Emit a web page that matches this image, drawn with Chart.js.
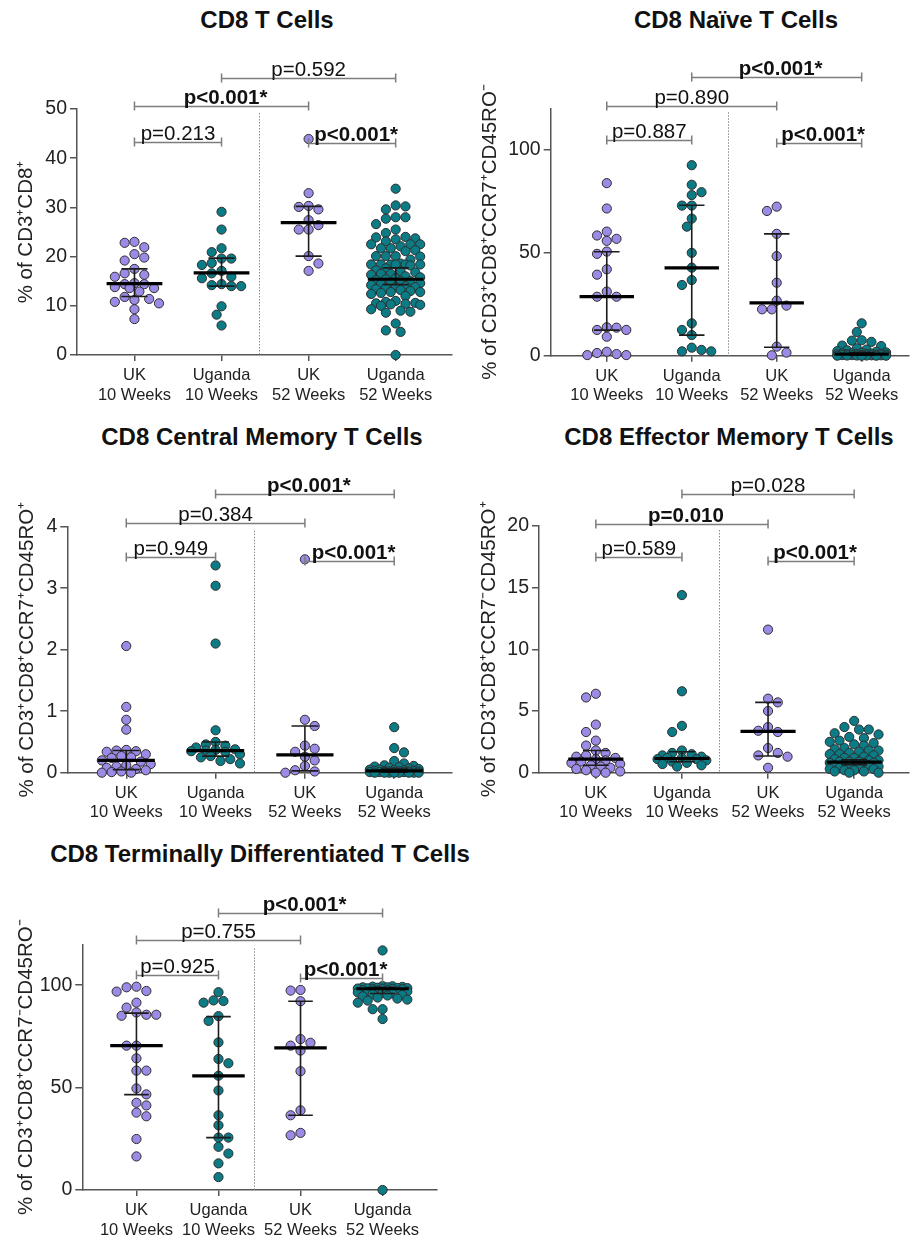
<!DOCTYPE html>
<html>
<head>
<meta charset="utf-8">
<script src="https://cdn.jsdelivr.net/npm/chart.js@4.4.1/dist/chart.umd.min.js"></script>
<style>
  body { margin: 0; background: #fff; }
  #page { position: relative; width: 914px; height: 1238px; overflow: hidden; background: #fff;
          font-family: 'Liberation Sans', Arial, sans-serif; }
  .title { position: absolute; transform: translateX(-50%); white-space: nowrap;
           font-weight: bold; font-size: 24px; line-height: 24px; color: #111; }
  canvas { position: absolute; }
</style>
</head>
<body>
<div id="page">
  <div class="title" style="left:267px;top:8px">CD8 T Cells</div>
  <div class="title" style="left:736px;top:8px">CD8 Naïve T Cells</div>
  <div class="title" style="left:262px;top:425px">CD8 Central Memory T Cells</div>
  <div class="title" style="left:729px;top:425px">CD8 Effector Memory T Cells</div>
  <div class="title" style="left:260px;top:842px">CD8 Terminally Differentiated T Cells</div>

  <canvas id="totalChart" width="457" height="370" style="left:0;top:40px"></canvas>
  <canvas id="naiveChart" width="457" height="370" style="left:457px;top:40px"></canvas>
  <canvas id="centralChart" width="457" height="375" style="left:0;top:455px"></canvas>
  <canvas id="effectorChart" width="457" height="375" style="left:457px;top:455px"></canvas>
  <canvas id="temraChart" width="457" height="366" style="left:0;top:872px"></canvas>
</div>
<script>
var FONT = "'Liberation Sans', Arial, sans-serif";
var PURPLE = '#9c8ae6';
var TEAL = '#0b7b86';

var groupLabels = [['UK', '10 Weeks'], ['Uganda', '10 Weeks'], ['UK', '52 Weeks'], ['Uganda', '52 Weeks']];
var groupColors = [PURPLE, TEAL, PURPLE, TEAL];
var comparisons = [[0, 1], [0, 2], [1, 3], [2, 3]];

// CD8 T cells (% of CD3+CD8+)
var totalUK10 = [23.0, 22.8, 21.9, 20.5, 19.8, 19.2, 17.5, 16.6, 16.3, 15.9, 14.6, 14.4, 14.4, 13.8, 13.6, 13.6, 12.9, 11.8, 11.4, 11.2, 10.8, 10.5, 9.3, 7.3];
var totalUG10 = [29.1, 25.5, 21.7, 20.9, 19.6, 19.6, 18.7, 18.3, 17.1, 16.6, 15.9, 15.6, 14.4, 14.2, 14.0, 14.0, 9.9, 8.2, 6.0];
var totalUK52 = [43.9, 32.9, 30.3, 30.1, 29.6, 27.4, 26.4, 25.5, 25.5, 20.1, 18.6, 17.1];
var totalUG52 = [33.8, 30.4, 30.2, 29.6, 28.0, 28.0, 27.7, 26.6, 25.5, 24.8,
    24.0, 23.9, 23.7, 23.5, 23.1, 22.5, 22.5, 22.5,
    22.1, 21.7, 21.7, 21.3, 21.1, 20.1, 20.1, 20.1, 20.0,
    19.4, 18.6, 18.4, 18.4, 18.4, 18.4, 18.4, 18.4, 18.2,
    17.6, 17.2, 17.0, 16.8, 16.5, 16.5, 16.3, 16.0,
    15.8, 15.6, 15.4, 15.2, 15.0, 15.0, 14.8, 14.6,
    14.4, 14.2, 14.0, 13.8, 13.8, 13.6, 13.4, 13.2,
    13.0, 12.8, 12.8, 12.6, 12.4, 12.0,
    11.0, 10.8, 10.6, 10.5, 10.4, 10.3, 10.2, 10.0,
    9.3, 9.0, 8.8, 8.6, 6.4, 5.0, 4.7, 0.0];
var totalMedian = [14.5, 16.7, 26.9, 15.4];
var totalLower = [11.9, 14.0, 20.1, 14.3];
var totalUpper = [17.5, 19.7, 30.2, 17.7];
var totalTicks = [0, 10, 20, 30, 40, 50];
var totalP = ['p=0.213', 'p<0.001*', 'p=0.592', 'p<0.001*'];
var totalPLevel = [43.2, 50.6, 56.4, 43.1];

// naive CCR7+ CD45RO-
var naiveUK10 = [83.7, 71.4, 60.2, 58.3, 56.7, 55.7, 50.5, 49.4, 41.9, 39.3, 31.1, 28.6, 28.6, 13.8, 13.6, 12.5, 12.5, 9.2, 1.9, 1.3, 0.8, 0.3, 0.3];
var naiveUG10 = [92.4, 82.9, 79.3, 77.9, 72.8, 72.8, 66.5, 62.6, 49.9, 42.7, 36.7, 34.3, 15.7, 12.5, 10.0, 3.9, 2.8, 2.1, 2.1];
var naiveUK52 = [72.3, 70.2, 59.1, 48.3, 35.4, 26.7, 24.3, 22.5, 22.5, 4.4, 1.5, 0.2];
var naiveUG52 = [15.7, 11.5, 7.5, 7.3, 6.7, 4.9, 4.7, 3.6, 3.0, 2.6, 2.2, 1.9, 1.6, 1.4, 1.2, 1.1, 1.0, 0.9, 0.8, 0.8,
    0.7, 0.6, 0.5, 0.5, 0.4, 0.3, 0.3, 0.2, 0.2, 0.1, 0.1, 0.1, 0.0, 0.0, 0.0, 0.0];
var naiveMedian = [28.7, 42.6, 25.6, 0.8];
var naiveLower = [12.4, 10.0, 4.1, 0.2];
var naiveUpper = [50.4, 73.0, 59.1, 1.5];
var naiveTicks = [0, 50, 100];
var naiveP = ['p=0.887', 'p=0.890', 'p<0.001*', 'p<0.001*'];
var naivePLevel = [104.6, 121.2, 135.1, 103.1];

// central memory CCR7+ CD45RO+
var centralUK10 = [2.06, 1.07, 0.86, 0.70, 0.37, 0.36, 0.35, 0.34, 0.30, 0.27, 0.25, 0.24, 0.20, 0.18, 0.14, 0.12, 0.10, 0.08, 0.06, 0.04, 0.02, 0.01, 0.0, 0.0];
var centralUG10 = [3.37, 3.04, 2.10, 0.69, 0.50, 0.46, 0.44, 0.41, 0.38, 0.37, 0.36, 0.35, 0.34, 0.30, 0.27, 0.25, 0.22, 0.19, 0.15];
var centralUK52 = [3.47, 0.86, 0.76, 0.44, 0.39, 0.34, 0.26, 0.20, 0.11, 0.04, 0.02, 0.0];
var centralUG52 = [0.74, 0.40, 0.33, 0.19, 0.15, 0.12, 0.11, 0.10, 0.09, 0.08, 0.07, 0.06, 0.05, 0.05, 0.04, 0.04, 0.03, 0.03,
    0.03, 0.02, 0.02, 0.02, 0.02, 0.01, 0.01, 0.01, 0.01, 0.01, 0.0, 0.0, 0.0, 0.0, 0.0, 0.0, 0.0, 0.0];
var centralMedian = [0.20, 0.36, 0.29, 0.03];
var centralLower = [0.05, 0.27, 0.03, 0.01];
var centralUpper = [0.36, 0.50, 0.76, 0.06];
var centralTicks = [0, 1, 2, 3, 4];
var centralP = ['p=0.949', 'p=0.384', 'p<0.001*', 'p<0.001*'];
var centralPLevel = [3.51, 4.06, 4.53, 3.45];

// effector memory CCR7- CD45RO+
var effectorUK10 = [6.4, 6.1, 3.9, 3.3, 2.6, 2.2, 1.8, 1.6, 1.4, 1.3, 1.2, 1.1, 1.0, 0.9, 0.8, 0.7, 0.6, 0.5, 0.4, 0.3, 0.2, 0.1, 0.0, 0.0];
var effectorUG10 = [14.4, 6.6, 3.8, 3.3, 1.8, 1.6, 1.5, 1.4, 1.3, 1.2, 1.2, 1.1, 1.1, 1.0, 0.9, 0.8, 0.7, 0.6, 0.5];
var effectorUK52 = [11.6, 6.0, 5.7, 5.0, 3.7, 3.4, 3.3, 2.0, 1.6, 1.4, 1.3, 0.4];
var effectorUG52 = [4.2, 3.7, 3.5, 3.5, 3.2, 3.1, 2.9, 2.8, 2.6, 2.5, 2.4, 2.3, 2.2, 2.0, 1.9, 1.8, 1.8, 1.7, 1.6, 1.5,
    1.5, 1.4, 1.3, 1.2, 1.2, 1.1, 1.0, 1.0, 0.9, 0.9, 0.9, 0.8, 0.8, 0.8, 0.7, 0.7, 0.6, 0.6, 0.5, 0.5,
    0.4, 0.4, 0.3, 0.3, 0.2, 0.2, 0.1, 0.1, 0.0, 0.0];
var effectorMedian = [1.1, 1.15, 3.35, 0.85];
var effectorLower = [0.6, 0.9, 1.35, 0.65];
var effectorUpper = [1.8, 1.7, 5.7, 1.05];
var effectorTicks = [0, 5, 10, 15, 20];
var effectorP = ['p=0.589', 'p=0.010', 'p=0.028', 'p<0.001*'];
var effectorPLevel = [17.5, 20.2, 22.6, 17.2];

// terminally differentiated CCR7- CD45RO-
var temraUK10 = [99.3, 99.0, 97.2, 96.9, 91.5, 89.1, 86.7, 85.6, 85.6, 85.1, 70.5, 70.5, 64.3, 58.3, 58.3, 49.6, 46.7, 42.6, 41.3, 37.8, 36.0, 24.9, 16.4];
var temraUG10 = [96.6, 92.6, 92.3, 91.5, 84.9, 82.6, 72.1, 64.0, 61.9, 55.8, 48.6, 36.5, 31.6, 25.6, 25.6, 21.1, 17.8, 13.0, 6.3];
var temraUK52 = [97.7, 97.4, 92.2, 73.7, 71.9, 70.5, 68.1, 58.0, 38.9, 36.5, 27.9, 26.7];
var temraUG52 = [117.0, 99.6, 99.5, 99.3, 99.2, 99.0, 99.0, 98.8, 98.7, 98.6, 98.5, 98.4, 98.3, 98.2, 98.0, 98.0, 97.8, 97.6, 97.5,
    97.3, 97.0, 96.8, 96.5, 96.2, 96.0, 95.6, 95.2, 95.0, 94.6, 94.0, 93.5, 93.0, 92.5, 91.5, 88.3, 88.3, 83.5, 0.0];
var temraMedian = [70.5, 55.7, 69.4, 98.3];
var temraLower = [46.6, 25.6, 36.5, 96.0];
var temraUpper = [86.4, 84.7, 92.2, 99.0];
var temraTicks = [0, 50, 100];
var temraP = ['p=0.925', 'p=0.755', 'p<0.001*', 'p<0.001*'];
var temraPLevel = [104.9, 121.9, 135.3, 103.7];

var X_MIN = -0.66;
var WEEK_DIVIDER = 1.43;
var DOT = 9;

// spread points of one column sideways so they don't sit on top of each other
function beeswarm(values, pxPerY, pxPerX, maxHalf) {
    var order = values.map(function (v, i) { return i; });
    order.sort(function (a, b) { return values[b] - values[a]; });
    var placed = [];
    var offsets = values.map(function () { return 0; });
    var step = DOT * 0.55;
    var maxK = Math.floor(maxHalf / step);
    order.forEach(function (i, n) {
        var y = values[i] * pxPerY;
        var sign = n % 2 ? -1 : 1;
        var best = 0, bestGap = -1, done = false;
        for (var k = 0; k <= maxK && !done; k++) {
            var cands = k === 0 ? [0] : [sign * k * step, -sign * k * step];
            for (var c = 0; c < cands.length; c++) {
                var gap = Infinity;
                placed.forEach(function (p) {
                    gap = Math.min(gap, Math.hypot(p.x - cands[c], p.y - y));
                });
                if (gap >= DOT) { best = cands[c]; done = true; break; }
                if (gap > bestGap) { bestGap = gap; best = cands[c]; }
            }
        }
        placed.push({ x: best, y: y });
        offsets[i] = best / pxPerX;
    });
    return offsets;
}

var dividerPlugin = {
    id: 'weekDivider',
    beforeDatasetsDraw: function (chart) {
        var ctx = chart.ctx, area = chart.chartArea;
        var x = Math.round(chart.scales.x.getPixelForValue(WEEK_DIVIDER)) + 0.5;
        ctx.save();
        ctx.strokeStyle = '#8a8a8a';
        ctx.lineWidth = 1;
        ctx.setLineDash([1.5, 1.5]);
        ctx.beginPath();
        ctx.moveTo(x, area.top + 4);
        ctx.lineTo(x, area.bottom);
        ctx.stroke();
        ctx.restore();
    }
};

var summaryPlugin = {
    id: 'medianBars',
    afterDatasetsDraw: function (chart, args, opts) {
        var ctx = chart.ctx, xs = chart.scales.x, ys = chart.scales.y;
        var unit = xs.getPixelForValue(1) - xs.getPixelForValue(0);
        ctx.save();
        opts.median.forEach(function (m, i) {
            var cx = xs.getPixelForValue(i);
            var lo = ys.getPixelForValue(opts.lower[i]);
            var hi = ys.getPixelForValue(opts.upper[i]);
            var cap = 0.15 * unit;
            ctx.strokeStyle = '#1c1c1c';
            ctx.lineWidth = 1.6;
            ctx.beginPath();
            ctx.moveTo(cx, lo); ctx.lineTo(cx, hi);
            ctx.moveTo(cx - cap, lo); ctx.lineTo(cx + cap, lo);
            ctx.moveTo(cx - cap, hi); ctx.lineTo(cx + cap, hi);
            ctx.stroke();
            var my = ys.getPixelForValue(m);
            ctx.strokeStyle = '#000';
            ctx.lineWidth = 3.2;
            ctx.beginPath();
            ctx.moveTo(cx - 0.32 * unit, my);
            ctx.lineTo(cx + 0.32 * unit, my);
            ctx.stroke();
        });
        ctx.restore();
    }
};

var bracketPlugin = {
    id: 'pBrackets',
    afterDraw: function (chart, args, opts) {
        var ctx = chart.ctx, xs = chart.scales.x, ys = chart.scales.y;
        ctx.save();
        comparisons.forEach(function (pair, i) {
            var x1 = xs.getPixelForValue(pair[0]);
            var x2 = xs.getPixelForValue(pair[1]);
            var ly = Math.round(ys.getPixelForValue(opts.levels[i])) + 0.5;
            ctx.strokeStyle = '#7d7d7d';
            ctx.lineWidth = 1.5;
            ctx.beginPath();
            ctx.moveTo(x1, ly - 5); ctx.lineTo(x1, ly + 4);
            ctx.moveTo(x1, ly); ctx.lineTo(x2, ly);
            ctx.moveTo(x2, ly - 5); ctx.lineTo(x2, ly + 4);
            ctx.stroke();

            var text = opts.labels[i];
            var strong = text.indexOf('<') >= 0 || parseFloat(text.slice(2)) < 0.0125;
            ctx.font = (strong ? 'bold ' : '') + '20.5px ' + FONT;
            ctx.fillStyle = '#111';
            ctx.textAlign = 'center';
            ctx.textBaseline = 'alphabetic';
            ctx.fillText(text, (x1 + x2) / 2 + (strong ? 4 : 0), ly - 3);
        });
        ctx.restore();
    }
};

function createPanel(id, cfg) {
    var canvas = document.getElementById(id);
    var areaW = canvas.width - cfg.axisWidth - cfg.padRight;
    var areaH = canvas.height - cfg.padTop - cfg.axisHeight;
    var pxPerX = areaW / (cfg.xMax - X_MIN);
    var pxPerY = areaH / cfg.yMax;

    var datasets = cfg.groups.map(function (vals, g) {
        var off = beeswarm(vals, pxPerY, pxPerX, 0.31 * pxPerX);
        return {
            data: vals.map(function (v, i) { return { x: g + off[i], y: v }; }),
            backgroundColor: groupColors[g],
            borderColor: '#2e2e2e',
            borderWidth: 1,
            pointRadius: 4.6,
            pointHoverRadius: 4.6,
            clip: false
        };
    });

    return new Chart(canvas.getContext('2d'), {
        type: 'scatter',
        data: { datasets: datasets },
        plugins: [dividerPlugin, summaryPlugin, bracketPlugin],
        options: {
            responsive: false,
            animation: false,
            layout: { padding: { top: cfg.padTop, right: cfg.padRight, left: 0, bottom: 0 } },
            plugins: {
                legend: { display: false },
                tooltip: { enabled: false },
                medianBars: { median: cfg.median, lower: cfg.lower, upper: cfg.upper },
                pBrackets: { labels: cfg.pLabels, levels: cfg.pLevels }
            },
            scales: {
                x: {
                    type: 'linear',
                    min: X_MIN,
                    max: cfg.xMax,
                    afterBuildTicks: function (scale) {
                        scale.ticks = [0, 1, 2, 3].map(function (v) { return { value: v }; });
                    },
                    afterFit: function (scale) { scale.height = cfg.axisHeight; },
                    ticks: {
                        callback: function (value) { return groupLabels[value]; },
                        font: { family: FONT, size: 16.5, lineHeight: 1.2 },
                        color: '#222',
                        padding: 4.5,
                        maxRotation: 0,
                        autoSkip: false
                    },
                    grid: { display: true, drawOnChartArea: false, tickLength: 6, color: '#555', lineWidth: 1.5 },
                    border: { display: true, color: '#555', width: 1.5 }
                },
                y: {
                    min: 0,
                    max: cfg.yMax,
                    afterBuildTicks: function (scale) {
                        scale.ticks = cfg.yTicks.map(function (v) { return { value: v }; });
                    },
                    afterFit: function (scale) { scale.width = cfg.axisWidth; },
                    ticks: {
                        font: { family: FONT, size: 19.5 },
                        color: '#222',
                        padding: 3
                    },
                    grid: { display: true, drawOnChartArea: false, tickLength: 7, color: '#555', lineWidth: 1.5 },
                    border: { display: true, color: '#555', width: 1.5 },
                    title: {
                        display: true,
                        text: cfg.yTitle,
                        font: { family: FONT, size: 20.5 },
                        color: '#222',
                        padding: { top: cfg.titlePad, bottom: 0 }
                    }
                }
            }
        }
    });
}

createPanel('totalChart', {
    groups: [totalUK10, totalUG10, totalUK52, totalUG52],
    median: totalMedian, lower: totalLower, upper: totalUpper,
    yMax: 50, yTicks: totalTicks, yTitle: '% of CD3⁺CD8⁺',
    pLabels: totalP, pLevels: totalPLevel,
    xMax: 3.64, padTop: 69, padRight: 2, axisWidth: 77, axisHeight: 55, titlePad: 13.7
});

createPanel('naiveChart', {
    groups: [naiveUK10, naiveUG10, naiveUK52, naiveUG52],
    median: naiveMedian, lower: naiveLower, upper: naiveUpper,
    yMax: 120, yTicks: naiveTicks, yTitle: '% of CD3⁺CD8⁺CCR7⁺CD45RO⁻',
    pLabels: naiveP, pLevels: naivePLevel,
    xMax: 3.55, padTop: 68.3, padRight: 0, axisWidth: 93.7, axisHeight: 54.3, titlePad: 21.4
});

createPanel('centralChart', {
    groups: [centralUK10, centralUG10, centralUK52, centralUG52],
    median: centralMedian, lower: centralLower, upper: centralUpper,
    yMax: 4, yTicks: centralTicks, yTitle: '% of CD3⁺CD8⁺CCR7⁺CD45RO⁺',
    pLabels: centralP, pLevels: centralPLevel,
    xMax: 3.64, padTop: 71.7, padRight: 0.3, axisWidth: 67.3, axisHeight: 57.3, titlePad: 15.2
});

createPanel('effectorChart', {
    groups: [effectorUK10, effectorUG10, effectorUK52, effectorUG52],
    median: effectorMedian, lower: effectorLower, upper: effectorUpper,
    yMax: 20, yTicks: effectorTicks, yTitle: '% of CD3⁺CD8⁺CCR7⁻CD45RO⁺',
    pLabels: effectorP, pLevels: effectorPLevel,
    xMax: 3.63, padTop: 71, padRight: 0, axisWidth: 82, axisHeight: 57.3, titlePad: 19.7
});

createPanel('temraChart', {
    groups: [temraUK10, temraUG10, temraUK52, temraUG52],
    median: temraMedian, lower: temraLower, upper: temraUpper,
    yMax: 120, yTicks: temraTicks, yTitle: '% of CD3⁺CD8⁺CCR7⁻CD45RO⁻',
    pLabels: temraP, pLevels: temraPLevel,
    xMax: 3.66, padTop: 72.3, padRight: 20.3, axisWidth: 82.3, axisHeight: 48, titlePad: 13.7
});
</script>
</body>
</html>
